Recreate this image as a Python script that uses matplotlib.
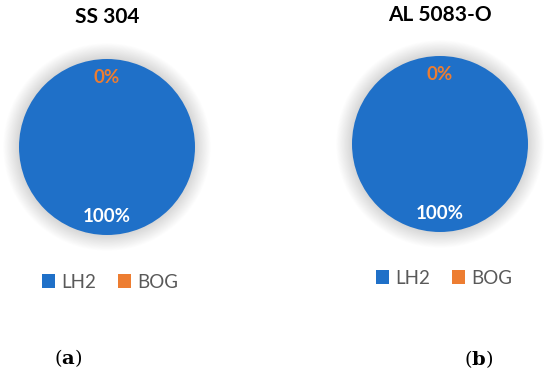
import matplotlib.pyplot as plt
from matplotlib.patches import Circle

categories = ['LH2', 'BOG']
ss304_values = [100, 0]
al5083_values = [100, 0]
titles = ['SS 304', 'AL 5083-O']
captions = ['a', 'b']

colors = ['#1f70c8', '#ed7d31']
plt.rcParams['font.family'] = ['Lato', 'DejaVu Sans']
plt.rcParams['mathtext.fontset'] = 'dejavuserif'

W, H = 550, 379
fig = plt.figure(figsize=(W / 100, H / 100), dpi=100)

# pixel layout (top-left origin) for each panel
panels = [
    dict(cx=107, cy=147, title_y=17, leg_x=110, leg_y=282, cap_x=68, cap_y=358),
    dict(cx=440, cy=144, title_y=15, leg_x=444, leg_y=278, cap_x=479, cap_y=359),
]
r_px = 88
size = 2.5 * r_px

for vals, title, cap, p in zip([ss304_values, al5083_values], titles, captions, panels):
    ax = fig.add_axes([(p['cx'] - size / 2) / W, 1 - (p['cy'] + size / 2) / H,
                       size / W, size / H])
    # soft shadow around the pie
    for i in range(20):
        ax.add_patch(Circle((0, 0), 1.0 + 0.009 * (i + 1), color='#000000',
                            alpha=0.006, lw=0, zorder=0))
    wedges, texts, autotexts = ax.pie(vals, colors=colors, startangle=90, counterclock=False,
                                      autopct='%.0f%%', pctdistance=0.79,
                                      wedgeprops=dict(linewidth=0),
                                      textprops=dict(fontsize=13.5, fontweight='bold'))
    autotexts[0].set_color('white')
    autotexts[1].set_color('#ed7d31')
    ax.set_xlim(-1.25, 1.25)
    ax.set_ylim(-1.25, 1.25)
    ax.axis('off')

    fig.text(p['cx'] / W, 1 - p['title_y'] / H, title, ha='center', va='center',
             fontsize=15, fontweight='bold', color='black')
    fig.legend(wedges, categories, loc='center', ncol=2, frameon=False,
               bbox_to_anchor=(p['leg_x'] / W, 1 - p['leg_y'] / H),
               fontsize=13.5, labelcolor='#595959', handlelength=0.7, handleheight=0.7,
               handletextpad=0.3, columnspacing=1.2)
    fig.text(p['cap_x'] / W, 1 - p['cap_y'] / H, '(' + r'$\mathbf{' + cap + '}$' + ')',
             ha='center', va='center', fontsize=14, family='DejaVu Serif')

fig.savefig('out.png', dpi=100)
